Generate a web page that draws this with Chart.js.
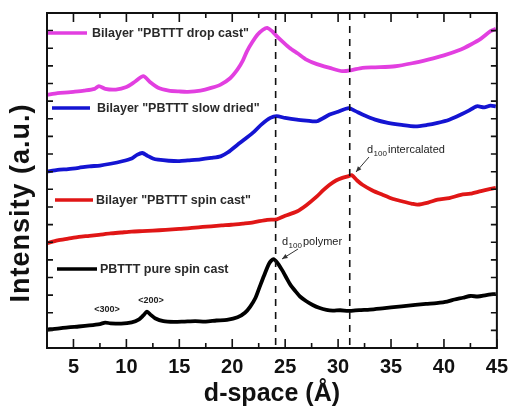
<!DOCTYPE html>
<html>
<head>
<meta charset="utf-8">
<script src="https://cdn.jsdelivr.net/npm/chart.js@4/dist/chart.umd.min.js"></script>
<style>
html,body{margin:0;padding:0;background:#fff;}
#wrap{width:515px;height:409px;position:relative;}
</style>
</head>
<body>
<div id="wrap"><canvas id="c" width="515" height="409"></canvas></div>
<script>
// ---- data (d-space in Å, intensity in arbitrary offset units) ----
const seriesNames = ['Bilayer "PBTTT drop cast"', 'Bilayer "PBTTT slow dried"', 'Bilayer "PBTTT spin cast"', 'PBTTT pure spin cast'];

const dropCastX = [2.5,3.5,4.5,5.0,6.0,7.0,7.4,8.0,9.0,10.0,10.8,11.6,12.2,13.0,14.0,15.0,15.8,17.0,18.0,18.9,19.8,20.5,21.0,21.4,21.9,22.4,22.9,23.3,23.8,24.2,24.8,25.4,26.2,27.0,28.0,29.2,30.4,31.2,32.3,33.5,35.4,37.0,38.5,40.0,41.6,42.5,43.5,44.4,44.9];
const dropCastY = [14.35,14.45,14.5,14.53,14.6,14.7,14.85,14.7,14.66,14.8,15.1,15.42,15.1,14.76,14.6,14.55,14.53,14.6,14.75,14.94,15.3,15.8,16.3,16.84,17.35,17.78,18.05,18.16,17.95,17.69,17.35,17.03,16.7,16.36,16.1,15.89,15.7,15.75,15.89,15.92,15.98,16.15,16.36,16.6,16.93,17.2,17.55,17.97,18.1];

const slowDriedX = [2.5,3.5,4.5,5.5,6.5,7.5,8.5,9.6,10.5,11.0,11.5,12.0,12.5,13.0,14.0,15.0,15.8,17.0,18.0,18.9,19.6,20.5,21.3,22.1,22.8,23.6,24.2,25.0,26.1,27.0,28.0,29.2,30.0,31.0,31.6,32.3,33.5,34.7,36.0,37.3,38.4,39.4,40.5,41.6,42.3,43.1,43.8,44.4,44.9];
const slowDriedY = [10.0,10.1,10.15,10.22,10.3,10.35,10.45,10.59,10.75,10.95,11.06,10.9,10.75,10.68,10.62,10.6,10.64,10.7,10.78,10.87,11.1,11.53,11.9,12.29,12.7,13.05,13.15,13.05,12.95,12.9,12.86,13.24,13.4,13.6,13.45,13.24,12.95,12.77,12.65,12.57,12.65,12.77,12.95,13.24,13.45,13.71,13.65,13.75,13.7];

const spinCastX = [2.5,3.5,4.5,5.5,6.5,7.4,8.5,9.5,10.5,11.5,12.5,13.7,15.0,16.0,17.0,18.0,19.0,19.9,21.0,22.0,23.3,24.2,25.0,26.1,27.0,28.0,28.6,29.2,29.8,30.4,31.0,31.3,31.8,32.3,33.2,34.2,35.2,36.1,37.0,37.5,38.5,39.4,40.5,41.6,42.5,43.5,44.4,44.9];
const spinCastY = [5.95,6.1,6.2,6.3,6.36,6.42,6.5,6.55,6.6,6.63,6.66,6.7,6.76,6.8,6.86,6.9,6.95,6.99,7.06,7.13,7.27,7.3,7.5,7.74,8.1,8.6,8.95,9.26,9.5,9.65,9.75,9.8,9.5,9.26,8.95,8.69,8.45,8.31,8.18,8.13,8.25,8.41,8.5,8.69,8.75,8.9,9.02,9.08];

const pureX = [2.5,3.5,4.5,5.5,6.5,7.5,8.0,8.5,9.5,10.5,11.2,11.6,11.95,12.3,12.7,13.5,14.5,15.5,16.5,17.5,18.5,19.5,20.5,21.2,21.7,22.2,22.6,23.0,23.5,23.9,24.3,24.7,25.1,25.5,26.0,26.4,27.0,27.6,28.2,28.9,29.5,30.2,31.0,32.0,33.0,34.2,35.0,36.0,37.3,38.3,39.3,40.3,41.0,41.8,42.5,43.2,44.0,44.9];
const pureY = [1.05,1.1,1.17,1.22,1.28,1.36,1.44,1.4,1.38,1.45,1.63,1.85,2.06,1.88,1.69,1.52,1.48,1.5,1.52,1.5,1.56,1.6,1.74,2.0,2.35,2.85,3.48,4.1,4.81,5.04,4.8,4.43,4.0,3.58,3.2,2.92,2.65,2.44,2.28,2.16,2.12,2.14,2.1,2.15,2.18,2.25,2.3,2.36,2.44,2.5,2.55,2.63,2.75,2.85,2.95,2.92,3.0,3.07];

const seriesColors = ['#e23fe0', '#1414d2', '#e01616', '#000000'];
const xTickLabels = [5,10,15,20,25,30,35,40,45];
const markerLines = [24.1, 31.1];

function pts(xs, ys){ return xs.map((x,i)=>({x:x, y:ys[i]})); }

const FONT = '"Liberation Sans", Arial, sans-serif';

const decorPlugin = {
  id: 'decor',
  afterDraw(chart){
    const ctx = chart.ctx, a = chart.chartArea;
    const xs = chart.scales.x, ys = chart.scales.y;
    ctx.save();
    // dashed reference lines
    ctx.strokeStyle = '#111'; ctx.lineWidth = 1.6; ctx.setLineDash([7,6]);
    markerLines.forEach(v=>{
      const px = xs.getPixelForValue(v);
      ctx.beginPath(); ctx.moveTo(px, a.top); ctx.lineTo(px, a.bottom); ctx.stroke();
    });
    ctx.setLineDash([]);
    // frame
    ctx.strokeStyle = '#111'; ctx.lineWidth = 2;
    ctx.strokeRect(a.left, a.top, a.right - a.left, a.bottom - a.top);
    // inward ticks x
    ctx.lineWidth = 1.6;
    xs.ticks.forEach(t=>{
      const px = xs.getPixelForValue(t.value);
      const major = Math.abs(t.value % 5) < 1e-6;
      const L = major ? 9 : 5;
      ctx.beginPath();
      ctx.moveTo(px, a.bottom); ctx.lineTo(px, a.bottom - L);
      ctx.moveTo(px, a.top); ctx.lineTo(px, a.top + L);
      ctx.stroke();
    });
    ys.ticks.forEach(t=>{
      const py = ys.getPixelForValue(t.value);
      const L = 6;
      ctx.beginPath();
      ctx.moveTo(a.left, py); ctx.lineTo(a.left + L, py);
      ctx.moveTo(a.right, py); ctx.lineTo(a.right - L, py);
      ctx.stroke();
    });
    // y title
    ctx.save();
    ctx.translate(21.5, 203);
    ctx.rotate(-Math.PI/2);
    ctx.font = 'bold 27px ' + FONT;
    try { ctx.letterSpacing = '1px'; } catch(e) {}
    ctx.fillStyle = '#111';
    ctx.textAlign = 'center'; ctx.textBaseline = 'middle';
    ctx.fillText('Intensity (a.u.)', 0, 0);
    ctx.restore();
    // inline legend
    const leg = [
      {y:33, x0:48, x1:87, tx:92},
      {y:108, x0:52, x1:90, tx:97},
      {y:200, x0:55, x1:93, tx:96},
      {y:269, x0:57, x1:97, tx:100}
    ];
    leg.forEach((l,i)=>{
      ctx.strokeStyle = seriesColors[i]; ctx.lineWidth = 3.5;
      ctx.beginPath(); ctx.moveTo(l.x0, l.y); ctx.lineTo(l.x1, l.y); ctx.stroke();
      ctx.fillStyle = '#2a2a2a';
      ctx.font = 'bold 12.5px ' + FONT;
      ctx.textAlign = 'left'; ctx.textBaseline = 'middle';
      ctx.fillText(seriesNames[i], l.tx, l.y + 0.5);
    });
    // peak annotations
    ctx.fillStyle = '#222';
    ctx.textBaseline = 'middle'; ctx.textAlign = 'left';
    function dlabel(x, y, rest){
      ctx.font = '11px ' + FONT;
      ctx.fillText('d', x, y);
      ctx.font = '8px ' + FONT;
      ctx.fillText('100', x + 6.5, y + 3.5);
      ctx.font = '11px ' + FONT;
      ctx.fillText(rest, x + 21, y);
    }
    dlabel(367, 150, 'intercalated');
    dlabel(282, 242, 'polymer');
    function arrow(x0,y0,x1,y1){
      ctx.strokeStyle = '#333'; ctx.fillStyle = '#333'; ctx.lineWidth = 1;
      ctx.beginPath(); ctx.moveTo(x0,y0); ctx.lineTo(x1,y1); ctx.stroke();
      const ang = Math.atan2(y1-y0, x1-x0);
      ctx.beginPath();
      ctx.moveTo(x1,y1);
      ctx.lineTo(x1 - 6*Math.cos(ang-0.4), y1 - 6*Math.sin(ang-0.4));
      ctx.lineTo(x1 - 6*Math.cos(ang+0.4), y1 - 6*Math.sin(ang+0.4));
      ctx.closePath(); ctx.fill();
    }
    arrow(369,157,356,172);
    arrow(298,249,282,259);
    // order labels
    ctx.font = 'bold 9px ' + FONT; ctx.fillStyle = '#222'; ctx.textAlign = 'center';
    ctx.fillText('<300>', 107, 310);
    ctx.fillText('<200>', 151, 301);
    ctx.restore();
  }
};

new Chart(document.getElementById('c'), {
  type: 'line',
  data: {
    datasets: [
      {label: seriesNames[0], data: pts(dropCastX, dropCastY), borderColor: seriesColors[0]},
      {label: seriesNames[1], data: pts(slowDriedX, slowDriedY), borderColor: seriesColors[1]},
      {label: seriesNames[2], data: pts(spinCastX, spinCastY), borderColor: seriesColors[2]},
      {label: seriesNames[3], data: pts(pureX, pureY), borderColor: seriesColors[3]}
    ].map(d=>Object.assign(d, {borderWidth: 3.8, pointRadius: 0, tension: 0.25, fill: false}))
  },
  options: {
    responsive: false,
    animation: false,
    layout: {padding: {top: 13, right: 12, left: 0, bottom: 0}},
    plugins: {legend: {display: false}, tooltip: {enabled: false}},
    scales: {
      x: {
        type: 'linear', min: 2.5, max: 45,
        afterFit(s){ s.height = 61; },
        ticks: {
          stepSize: 2.5, autoSkip: false, maxRotation: 0, padding: 7,
          color: '#111', font: {family: FONT, size: 20, weight: 'bold'},
          callback: v => xTickLabels.includes(v) ? String(v) : ''
        },
        grid: {display: false, drawTicks: false},
        border: {display: false},
        title: {display: true, text: 'd-space (Å)', color: '#111', padding: {top: 0, bottom: 0},
                font: {family: FONT, size: 25, weight: 'bold'}}
      },
      y: {
        min: 0, max: 19,
        afterFit(s){ s.width = 47; },
        ticks: {display: false, stepSize: 1},
        grid: {display: false, drawTicks: false},
        border: {display: false}
      }
    }
  },
  plugins: [decorPlugin]
});
</script>
</body>
</html>
